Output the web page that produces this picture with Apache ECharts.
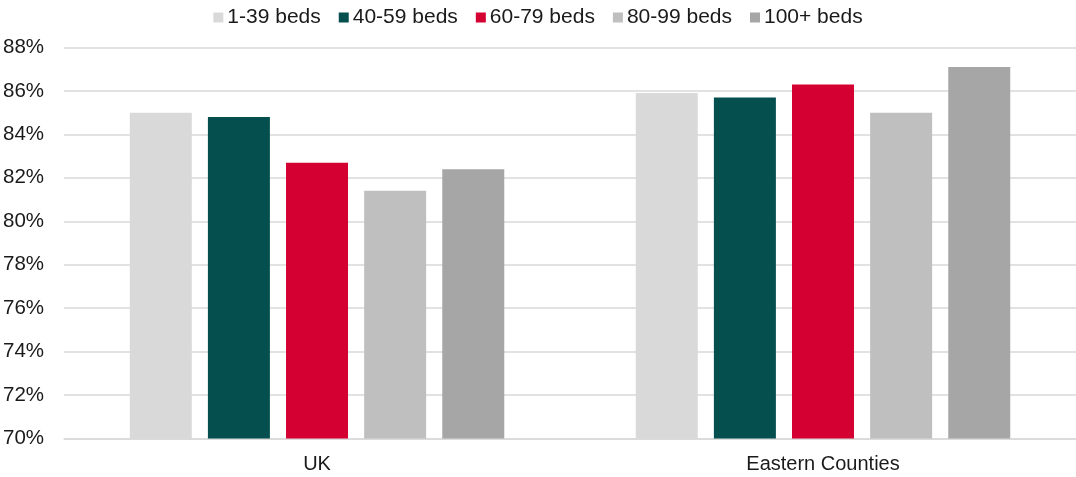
<!DOCTYPE html>
<html>
<head>
<meta charset="utf-8">
<style>
  html, body { margin: 0; padding: 0; background: #fff; }
  #chart { width: 1076px; height: 477px; }
</style>
<script src="https://cdn.jsdelivr.net/npm/echarts@6/dist/echarts.min.js"></script>
</head>
<body>
<div id="chart"></div>
<script>
// Occupancy by home size, UK vs Eastern Counties (percent)
const categories = ['UK', 'Eastern Counties'];
const seriesNames = ['1-39 beds', '40-59 beds', '60-79 beds', '80-99 beds', '100+ beds'];
const beds1to39 = [85.0, 85.9];
const beds40to59 = [84.8, 85.7];
const beds60to79 = [82.7, 86.3];
const beds80to99 = [81.4, 85.0];
const beds100plus = [82.4, 87.1];
const colors = ['#d9d9d9', '#054f4f', '#d50032', '#bfbfbf', '#a6a6a6'];

const values = [beds1to39, beds40to59, beds60to79, beds80to99, beds100plus];
const font = 'Liberation Sans, Arial, sans-serif';

const chart = echarts.init(document.getElementById('chart'), null, { renderer: 'canvas' });
chart.setOption({
  animation: false,
  backgroundColor: '#fff',
  legend: {
    top: 2,
    left: 'center',
    itemWidth: 10,
    itemHeight: 10,
    itemGap: 18,
    icon: 'rect',
    textStyle: { fontFamily: font, fontSize: 21, color: '#1a1a1a', padding: [0, 0, 0, -1] },
    data: seriesNames
  },
  grid: { left: 63, width: 1016, top: 47.5, bottom: 38.5 },
  xAxis: {
    type: 'category',
    data: categories,
    axisLine: { lineStyle: { color: '#d9d9d9', width: 1.5 } },
    axisTick: { show: false },
    axisLabel: { fontFamily: font, fontSize: 20, color: '#1a1a1a', margin: 16 }
  },
  yAxis: {
    type: 'value',
    min: 70,
    max: 88,
    interval: 2,
    axisLine: { show: false },
    axisTick: { show: false },
    splitLine: { lineStyle: { color: '#d9d9d9', width: 1.5 } },
    axisLabel: {
      fontFamily: font, fontSize: 20.5, color: '#1a1a1a', margin: 20,
      formatter: v => v + '%'
    }
  },
  series: seriesNames.map((name, i) => ({
    name,
    type: 'bar',
    data: values[i],
    barWidth: 62,
    barGap: '26%',
    itemStyle: { color: colors[i] }
  }))
});
</script>
</body>
</html>
